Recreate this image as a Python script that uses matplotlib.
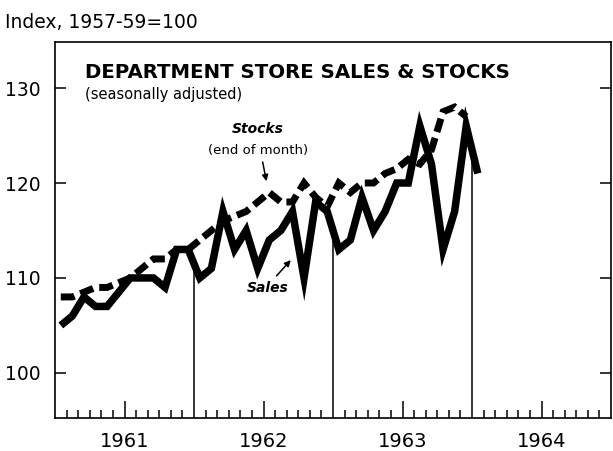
import numpy as np
import matplotlib
matplotlib.use("Agg")
import matplotlib.pyplot as plt
from matplotlib.ticker import FixedLocator

# ---- data (monthly, seasonally adjusted, index 1957-59 = 100) ----
start_year = 1961
sales = [105, 106, 108, 107, 107, 108.5, 110, 110, 110, 109, 113, 113,      # 1961
         110, 111, 117, 113, 115, 111, 114, 115, 117, 110, 118, 117,        # 1962
         113, 114, 118.5, 115, 117, 120, 120, 126, 122, 113, 117, 126,      # 1963
         121]                                                             # Jan 1964
stocks = [108, 108, 108.5, 109, 109, 109.5, 110, 111, 112, 112, 113, 113,   # 1961
          114, 115, 116, 116.5, 117, 118, 119, 118, 118, 120, 118.5, 117.5, # 1962
          120, 119, 120, 120, 121, 121.5, 122.5, 122, 123.5, 127.5, 128, 127]  # 1963
year_labels = ["1961", "1962", "1963", "1964"]
y_ticks = [100, 110, 120, 130]

# month midpoints in decimal years
x_sales = start_year + (np.arange(len(sales)) + 0.5) / 12.0
x_stocks = start_year + (np.arange(len(stocks)) + 0.5) / 12.0

plt.rcParams['font.family'] = ['DejaVu Sans']
plt.rcParams['lines.scale_dashes'] = False

W, H = 613, 451
fig = plt.figure(figsize=(W / 100, H / 100), dpi=100)
fig.patch.set_facecolor('white')
ax = fig.add_axes([55 / W, 1 - 418 / H, (611 - 55) / W, (418 - 42) / H])
ax.set_xlim(1961, 1965)
ax.set_ylim(95.25, 134.85)

# lines
ax.plot(x_sales, sales, color='black', lw=5.4, solid_joinstyle='miter',
        solid_capstyle='butt', zorder=3)
ax.plot(x_stocks, stocks, color='black', lw=5.0, dashes=(10, 4.5),
        dash_capstyle='butt', dash_joinstyle='miter', zorder=3)

# year dividers rising to the sales line
for yr in [1962, 1963, 1964]:
    top = np.interp(yr, x_sales, sales)
    ax.plot([yr, yr], [95.25, top], color='black', lw=1.1, zorder=2)

# spines
for s in ax.spines.values():
    s.set_linewidth(1.2)
    s.set_color('black')

# y ticks: inward on both sides
ax.yaxis.set_major_locator(FixedLocator(y_ticks))
ax.set_yticklabels([str(v) for v in y_ticks], fontsize=13.5)
ax.tick_params(axis='y', which='major', direction='in', length=8, width=1.1,
               left=True, right=True, pad=10)

# x ticks: monthly minor ticks, longer at mid-year
months = [1961 + k / 12 for k in range(48) if k % 12 != 0]
mid = [m for m in months if round((m - int(m + 1e-9)) * 12) == 6]
minor = [m for m in months if m not in mid]
ax.xaxis.set_major_locator(FixedLocator(mid))
ax.xaxis.set_minor_locator(FixedLocator(minor))
ax.set_xticklabels(year_labels, fontsize=14)
ax.tick_params(axis='x', which='major', direction='in', length=12, width=1.1,
               top=False, pad=10)
ax.tick_params(axis='x', which='minor', direction='in', length=6, width=1.1,
               top=False)

# texts
fig.text(5 / W, 1 - 28 / H, "Index, 1957-59=100", fontsize=13.5,
         ha='left', va='baseline')
fig.text(85 / W, 1 - 78 / H, "DEPARTMENT STORE SALES & STOCKS", fontsize=14.2,
         fontweight='bold', ha='left', va='baseline')
fig.text(85 / W, 1 - 99 / H, "(seasonally adjusted)", fontsize=10.5,
         ha='left', va='baseline')

ax.text(1962.46, 125.7, "Stocks", fontsize=10, fontweight='bold',
        fontstyle='italic', ha='center', va='center')
ax.text(1962.46, 123.4, "(end of month)", fontsize=9.5, ha='center', va='center')
ax.annotate("", xy=(1962.525, 119.9), xytext=(1962.49, 122.5),
            arrowprops=dict(arrowstyle='-|>', color='black', lw=1.1,
                            mutation_scale=9))
ax.text(1962.53, 108.9, "Sales", fontsize=10, fontweight='bold',
        fontstyle='italic', ha='center', va='center')
ax.annotate("", xy=(1962.71, 112.1), xytext=(1962.58, 110.0),
            arrowprops=dict(arrowstyle='-|>', color='black', lw=1.1,
                            mutation_scale=9))

fig.savefig("out.png", dpi=100, facecolor='white')
